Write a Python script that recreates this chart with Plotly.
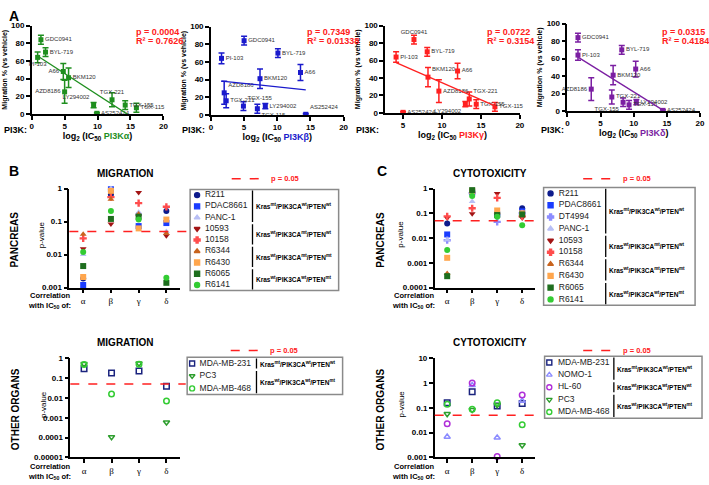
import numpy as np
import plotly.graph_objects as go

W, H = 709, 485
FONT = "Liberation Sans, Arial, sans-serif"
SERIF = "Liberation Serif, Times New Roman, serif"

# ---------------- Panel A: migration vs log2(IC50) ----------------
compounds = ["GDC0941", "BYL-719", "PI-103", "A66", "BKM120", "AZD8186",
             "LY294002", "AS252424", "TGX-221", "TGX-155", "TGX-115"]
migration = [84, 70, 64, 48, 41, 25, 10, 0.7, 16, 10, 7]
migration_err = [5, 5, 6, 9, 11, 13, 3, 1, 8, 5, 5]
log2_ic50_alpha = [1.4, 2.1, 0.9, 4.8, 5.6, 5.0, 9.4, 9.9, 12.2, 14.2, 15.9]
log2_ic50_beta = [5.0, 10.1, 1.6, 13.5, 7.4, 2.0, 8.2, 14.3, 2.3, 4.9, 7.0]
log2_ic50_gamma = [6.4, 8.1, 4.1, 12.0, 8.2, 9.6, 13.0, 5.0, 13.5, 14.4, 16.8]
log2_ic50_delta = [1.6, 8.2, 1.6, 10.3, 6.9, 3.6, 10.4, 14.4, 6.7, 8.4, 9.3]
isoform_names = ["PI3Kα", "PI3Kβ", "PI3Kγ", "PI3Kδ"]
stats_p = ["0.0004", "0.7349", "0.0722", "0.0315"]
stats_r2 = ["0.7626", "0.01338", "0.3154", "0.4184"]

# ---------------- Panel B/C: p-values of correlation ----------------
isoform_ticks = ["α", "β", "γ", "δ"]

mig_panc_lines = ["R211", "PDAC8661", "PANC-1", "10593", "10158",
                  "R6344", "R6430", "R6065", "R6141"]
mig_panc_p = [
    [0.0019, 0.66, 0.16, 0.21],
    [0.0012, 0.95, 0.073, 0.09],
    [0.010, 1.0, 0.19, 0.05],
    [0.015, 0.085, 0.76, 0.037],
    [0.031, 0.55, 0.36, 0.28],
    [0.041, 0.47, 0.17, 0.044],
    [0.0021, 0.85, 0.062, 0.115],
    [0.0045, 0.12, 0.14, 0.0014],
    [0.012, 0.21, 0.115, 0.002],
]
mig_panc_groups = [(0, 2, "wt_mt"), (3, 4, "mt_wt"), (5, 6, "mt_mt_pik"), (7, 8, "wt_pten")]

cyt_panc_lines = ["R211", "PDAC8661", "DT4994", "PANC-1", "10593", "10158",
                  "R6344", "R6430", "R6065", "R6141"]
cyt_panc_p = [
    [0.039, 0.75, 0.09, 0.16],
    [0.014, 0.70, 0.09, 0.12],
    [0.0082, 0.65, 0.045, 0.10],
    [0.0085, 0.30, 0.09, 0.10],
    [0.065, 0.095, 0.63, 0.065],
    [0.075, 0.16, 0.42, 0.075],
    [0.00037, 0.80, 0.11, 0.085],
    [0.0016, 0.80, 0.13, 0.10],
    [0.00029, 0.86, 0.085, 0.09],
    [0.0033, 0.50, 0.072, 0.033],
]
cyt_panc_groups = [(0, 3, "wt_mt"), (4, 5, "mt_wt"), (6, 7, "mt_mt_pik"), (8, 9, "wt_pten")]

mig_other_lines = ["MDA-MB-231", "PC3", "MDA-MB-468"]
mig_other_p = [
    [0.30, 0.18, 0.23, 0.039],
    [0.52, 0.000107, 0.55, 0.00059],
    [0.48, 0.016, 0.50, 0.0071],
]
mig_other_groups = [(0, 0, "wt_mt"), (1, 2, "wt_pten")]

cyt_other_lines = ["MDA-MB-231", "NOMO-1", "HL-60", "PC3", "MDA-MB-468"]
cyt_other_p = [
    [0.16, 0.45, 0.12, 0.15],
    [0.0068, 0.82, 0.0063, 0.19],
    [0.023, 1.0, 0.0011, 0.33],
    [0.057, 0.083, 0.13, 0.0031],
    [0.14, 0.087, 0.16, 0.021],
]
cyt_other_groups = [(0, 1, "wt_mt"), (2, 2, "wt_wt"), (3, 4, "wt_pten")]

genotype_text = {
    "wt_mt": "Kras<sup>mt</sup>/PIK3CA<sup>wt</sup>/PTEN<sup>wt</sup>",
    "mt_wt": "Kras<sup>wt</sup>/PIK3CA<sup>mt</sup>/PTEN<sup>wt</sup>",
    "mt_mt_pik": "Kras<sup>wt</sup>/PIK3CA<sup>mt</sup>/PTEN<sup>mt</sup>",
    "wt_pten": "Kras<sup>wt</sup>/PIK3CA<sup>wt</sup>/PTEN<sup>mt</sup>",
    "wt_wt": "Kras<sup>wt</sup>/PIK3CA<sup>wt</sup>/PTEN<sup>wt</sup>",
}

# styles
iso_colors = ["#1f8f1f", "#1a1acc", "#ff2020", "#7b1fa2"]
line_style = {
    "R211": ("circle", "#0d1b8c"),
    "PDAC8661": ("square", "#1a3cff"),
    "DT4994": ("cross", "#8c8cff"),
    "PANC-1": ("triangle-up", "#b8bff5"),
    "10593": ("triangle-down", "#a31515"),
    "10158": ("cross", "#ff4d4d"),
    "R6344": ("triangle-up", "#c8641e"),
    "R6430": ("square", "#ffa64d"),
    "R6065": ("square", "#1e6e1e"),
    "R6141": ("circle", "#33cc33"),
    "MDA-MB-231": ("square-open", "#1a237e"),
    "NOMO-1": ("triangle-up-open", "#8c8cff"),
    "HL-60": ("circle-open", "#b02fd8"),
    "PC3": ("triangle-down-open", "#2e9e2e"),
    "MDA-MB-468": ("circle-open", "#33cc33"),
}

text_pos = [
    ["middle right", "middle right", "bottom center", "middle left", "middle right", "middle left",
     "top left", "middle right", "top center", "middle right", "middle right"],
    ["middle right", "middle right", "middle right", "middle right", "middle right", "top right",
     "middle right", "top right", "middle right", "top right", "bottom right"],
    ["top center", "middle right", "middle right", "middle right", "top right", "middle right",
     "bottom left", "middle right", "top right", "middle right", "middle right"],
    ["middle right", "middle right", "middle right", "middle right", "middle right", "middle left",
     "middle right", "middle right", "middle right", "bottom left", "middle right"],
]


def dom(x0, x1, y0, y1):
    return [x0 / W, x1 / W], [1 - y1 / H, 1 - y0 / H]


def ann(x, y, text, size, color="black", bold=True, family=FONT, xanchor="center",
        yanchor="middle", angle=0):
    return dict(x=x / W, y=1 - y / H, xref="paper", yref="paper", text=text, showarrow=False,
                font=dict(size=size, color=color, family=family, weight="bold" if bold else "normal"),
                xanchor=xanchor, yanchor=yanchor, textangle=angle)


fig = go.Figure()
layout = {}
annotations = []
shapes = []

axis_common = dict(showline=True, linecolor="black", linewidth=1.5, ticks="outside", ticklen=4,
                   tickwidth=1.5, tickcolor="black", showgrid=False, zeroline=False,
                   tickfont=dict(size=8, family=FONT, weight="bold", color="black"))

# ---- Panel A
a_boxes = [(30, 163, 22, 112), (211, 345, 23, 113), (387, 523, 22, 111), (571, 705, 20, 109)]
a_xranges = [[0, 20], [0, 20], [2.7, 20], [0, 20]]
a_xvals = [log2_ic50_alpha, log2_ic50_beta, log2_ic50_gamma, log2_ic50_delta]
a_pi3k_x = [0, 180, 356, 542]
a_stats_x = [133, 306, 488, 665]

for i in range(4):
    n = i + 1
    xd, yd = dom(*a_boxes[i])
    c = iso_colors[i]
    xs = a_xvals[i]
    fig.add_trace(go.Scatter(
        x=xs, y=migration, mode="markers+text", text=compounds, textposition=text_pos[i],
        textfont=dict(size=6, color="#333333", family=FONT),
        marker=dict(symbol="square", size=5, color=c),
        error_y=dict(type="data", array=migration_err, color=c, thickness=1.5, width=3),
        xaxis=f"x{n}", yaxis=f"y{n}", cliponaxis=False, showlegend=False))
    slope, icpt = np.polyfit(xs, migration, 1)
    fx = [min(xs), max(xs)]
    fig.add_trace(go.Scatter(
        x=fx, y=[slope * v + icpt for v in fx], mode="lines", line=dict(color=c, width=1.3),
        xaxis=f"x{n}", yaxis=f"y{n}", showlegend=False))
    title = (f"log<sub>2</sub> (IC<sub>50</sub> "
             f"<span style='color:{c}'>{isoform_names[i]}</span>)")
    layout[f"xaxis{n}"] = dict(axis_common, domain=xd, range=a_xranges[i],
                               tickvals=[0, 5, 10, 15, 20], anchor=f"y{n}",
                               title=dict(text=title, font=dict(size=9, family=FONT, weight="bold"),
                                          standoff=2))
    layout[f"yaxis{n}"] = dict(axis_common, domain=yd, range=[0, 100],
                               tickvals=[0, 20, 40, 60, 80, 100], anchor=f"x{n}",
                               title=dict(text="Migration % (vs vehicle)",
                                          font=dict(size=7, family=FONT, weight="bold"), standoff=3))
    annotations.append(ann(a_pi3k_x[i], 128, "PI3K:", 9, xanchor="left"))
    annotations.append(ann(a_stats_x[i], 29, f"p = {stats_p[i]}", 9, color="#ff2020", xanchor="left"))
    annotations.append(ann(a_stats_x[i], 38, f"R² = {stats_r2[i]}", 9, color="#ff2020", xanchor="left"))

annotations.append(ann(12, 12, "A", 14))

# ---- Panels B/C
pv_panels = [
    (5, (68, 180, 188, 289), mig_panc_lines, mig_panc_p, [-3, 0], 1.08),
    (6, (69, 180, 361, 462), mig_other_lines, mig_other_p, [-5, 0], 1.05),
    (7, (437, 538, 188, 289), cyt_panc_lines, cyt_panc_p, [-4, 0], 1.0),
    (8, (437, 538, 361, 462), cyt_other_lines, cyt_other_p, [-3, 1], 1.0),
]

for n, box, names, pvals, yr, dash_end in pv_panels:
    xd, yd = dom(*box)
    for name, row in zip(names, pvals):
        sym, col = line_style[name]
        fig.add_trace(go.Scatter(
            x=list(range(4)), y=row, mode="markers",
            marker=dict(symbol=sym, size=6 if "open" not in sym else 5.5, color=col,
                        line=dict(width=1.5 if "open" in sym else 0, color=col)),
            xaxis=f"x{n}", yaxis=f"y{n}", cliponaxis=False, showlegend=False, name=name))
    tv = [10 ** k for k in range(yr[1], yr[0] - 1, -1)]
    tt = [("%f" % v).rstrip("0").rstrip(".") for v in tv]
    layout[f"xaxis{n}"] = dict(axis_common, domain=xd, range=[-0.5, 3.5], tickvals=[0, 1, 2, 3],
                               ticktext=isoform_ticks, anchor=f"y{n}",
                               tickfont=dict(size=9, family=SERIF, color="black"))
    layout[f"yaxis{n}"] = dict(axis_common, domain=yd, type="log", range=yr, tickvals=tv,
                               ticktext=tt, anchor=f"x{n}")
    shapes.append(dict(type="line", xref=f"x{n} domain", yref=f"y{n}", x0=0, x1=dash_end,
                       y0=0.05, y1=0.05, line=dict(color="#ff2020", width=1.5, dash="dash")))

for x0, yt, yc, ttl, xl, xp, xc, corr_y in [
    (124, 173, 240, "MIGRATION", 13, 40, 48, 302),
    (124, 345, 413, "MIGRATION", 13, 42, 48, 476),
    (493, 173, 240, "CYTOTOXICITY", 382, 403, 416, 302),
    (493, 345, 413, "CYTOTOXICITY", 382, 403, 416, 476),
]:
    annotations.append(ann(x0, yt, ttl, 10))
    annotations.append(ann(xl, yc, "PANCREAS" if yt < 300 else "OTHER ORGANS", 10, angle=-90))
    annotations.append(ann(xp, yc - 5, "p-value", 8, bold=False, angle=-90))
    annotations.append(ann(xc, corr_y, "Correlation<br>with IC<sub>50</sub> of:", 7.5))

annotations.append(ann(12, 170, "B", 14))
annotations.append(ann(384, 170, "C", 14))

# ---- Legends (hidden axes)
legends = [
    (9, (190, 340, 189, 292), mig_panc_lines, mig_panc_groups, 0.047, 0.10, 0.42, (232, 178)),
    (10, (187, 344, 360, 398), mig_other_lines, mig_other_groups, 0.032, 0.08, 0.446, (231, 353)),
    (11, (547, 700, 187, 307), cyt_panc_lines, cyt_panc_groups, 0.046, 0.10, 0.41, (587, 178)),
    (12, (548, 707, 359, 422), cyt_other_lines, cyt_other_groups, 0.03, 0.085, 0.44, (587, 353)),
]
for n, box, names, groups, mx, tx, bx, (dx, dy) in legends:
    xd, yd = dom(*box)
    rows = list(range(len(names)))
    syms = [line_style[nm][0] for nm in names]
    cols = [line_style[nm][1] for nm in names]
    fig.add_trace(go.Scatter(
        x=[mx] * len(names), y=rows, mode="markers",
        marker=dict(symbol=syms, color=cols, size=5, line=dict(width=1.4, color=cols)),
        xaxis=f"x{n}", yaxis=f"y{n}", cliponaxis=False, showlegend=False, hoverinfo="skip"))
    fig.add_trace(go.Scatter(
        x=[tx] * len(names), y=rows, mode="text", text=names, textposition="middle right",
        textfont=dict(size=8.5, family=FONT, color="#222222"),
        xaxis=f"x{n}", yaxis=f"y{n}", cliponaxis=False, showlegend=False, hoverinfo="skip"))
    layout[f"xaxis{n}"] = dict(domain=xd, range=[0, 1], visible=False, anchor=f"y{n}")
    layout[f"yaxis{n}"] = dict(domain=yd, range=[len(names) - 0.5, -0.5], visible=False, anchor=f"x{n}")
    shapes.append(dict(type="rect", xref=f"x{n} domain", yref=f"y{n} domain", x0=0, x1=1, y0=0, y1=1,
                       line=dict(color="#8a8a8a", width=1.5)))
    for g0, g1, key in groups:
        shapes.append(dict(type="line", xref=f"x{n}", yref=f"y{n}", x0=bx, x1=bx,
                           y0=g0 - 0.4, y1=g1 + 0.4, line=dict(color="black", width=1.3)))
        annotations.append(dict(x=bx + 0.01, y=(g0 + g1) / 2, xref=f"x{n}", yref=f"y{n}",
                                text=genotype_text[key], showarrow=False, xanchor="left",
                                font=dict(size=6.5, family=FONT, weight="bold", color="black")))
    shapes.append(dict(type="line", xref="paper", yref="paper", x0=dx / W, x1=(dx + 32) / W,
                       y0=1 - dy / H, y1=1 - dy / H,
                       line=dict(color="#ff2020", width=1.5, dash="dash")))
    annotations.append(ann(dx + 38, dy, "p = 0.05", 7.5, color="#ff2020", xanchor="left"))

fig.update_layout(
    width=W, height=H,
    margin=dict(l=0, r=0, t=0, b=0),
    plot_bgcolor="white", paper_bgcolor="white",
    font=dict(family=FONT, color="black"),
    showlegend=False,
    hovermode=False,
    annotations=annotations,
    shapes=shapes,
    **layout
)

# drop the browser's default body margin so the figure sits at the page corner
fig.write_html("out.html", config={"displayModeBar": False},
               post_script="document.body.style.margin='0';")
